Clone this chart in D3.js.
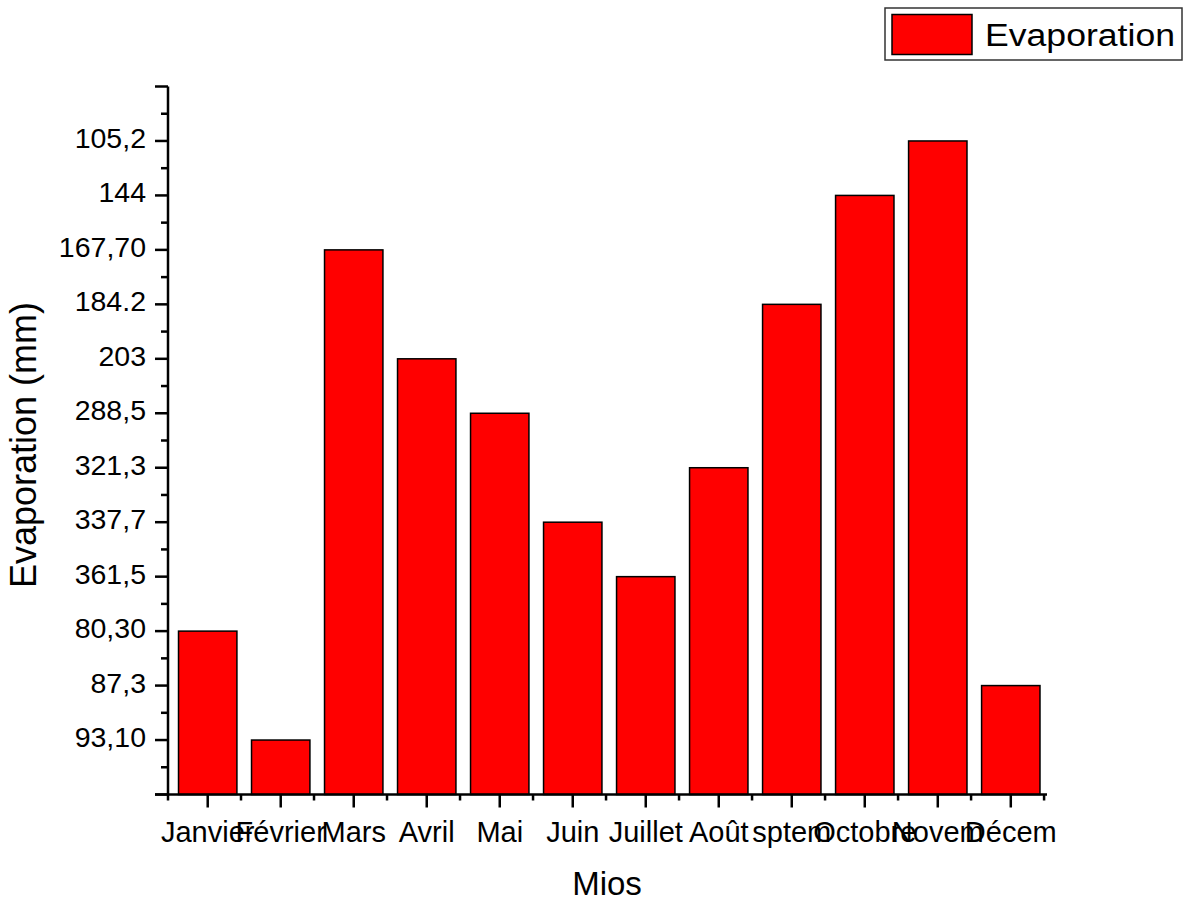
<!DOCTYPE html>
<html>
<head>
<meta charset="utf-8">
<script src="https://cdn.jsdelivr.net/npm/d3@7"></script>
<style>
  html, body { margin: 0; padding: 0; background: #fff; }
  svg { display: block; font-family: Arial, "Liberation Sans", sans-serif; }
</style>
</head>
<body>
<svg id="chart" width="1184" height="901"></svg>
<script>
// Month labels as they appear on the x axis
const months = ["Janvier","Février","Mars","Avril","Mai","Juin","Juillet","Août","sptem","Octobre","Novem","Décem"];
// Y axis tick labels (ordinal positions 1..12 from bottom)
const yTickLabels = ["93,10","87,3","80,30","361,5","337,7","321,3","288,5","203","184.2","167,70","144","105,2"];
// Evaporation value for each month (as shown on the y axis)
const evaporation = ["80,30","93,10","167,70","203","288,5","337,7","361,5","321,3","184.2","144","105,2","87,3"];
const seriesName = "Evaporation";
const xTitle = "Mios";
const yTitle = "Evaporation (mm)";

(function () {
const svg = d3.select("#chart");
const pl = 168, pr = 1047, pt = 86.5, pb = 794.5;

const x = d3.scaleBand().domain(months).range([pl, pr]).paddingInner(0.2).paddingOuter(0.12).align(0.6);
const y = d3.scaleLinear().domain([0, 13]).range([pb, pt]);
const pos = v => yTickLabels.indexOf(v) + 1;
const cx = d => x(d) + x.bandwidth() / 2;

// Bars
svg.append("g").selectAll("rect").data(months).join("rect")
  .attr("x", d => x(d))
  .attr("width", x.bandwidth())
  .attr("y", (d, i) => y(pos(evaporation[i])))
  .attr("height", (d, i) => y(0) - y(pos(evaporation[i])))
  .attr("fill", "#ff0000")
  .attr("stroke", "#000")
  .attr("stroke-width", 1.5);

// Y axis
const yMajor = d3.range(0, 14);
const yMinor = d3.range(0.5, 13, 1);
const ya = svg.append("g");
ya.append("line").attr("x1", pl).attr("x2", pl).attr("y1", y(13)).attr("y2", y(0))
  .attr("stroke", "#000").attr("stroke-width", 2.5);
ya.selectAll("line.maj").data(yMajor).join("line").attr("class", "maj")
  .attr("x1", pl - 13).attr("x2", pl).attr("y1", d => y(d)).attr("y2", d => y(d))
  .attr("stroke", "#000").attr("stroke-width", 2.5);
ya.selectAll("line.min").data(yMinor).join("line").attr("class", "min")
  .attr("x1", pl - 7).attr("x2", pl).attr("y1", d => y(d)).attr("y2", d => y(d))
  .attr("stroke", "#000").attr("stroke-width", 2.5);
ya.selectAll("text").data(yTickLabels).join("text")
  .attr("x", 146).attr("y", (d, i) => y(i + 1) + 7)
  .attr("text-anchor", "end").attr("font-size", 28.5).attr("fill", "#000")
  .text(d => d);

// X axis
const xa = svg.append("g");
xa.append("line").attr("x1", pl - 13).attr("x2", pr).attr("y1", pb).attr("y2", pb)
  .attr("stroke", "#000").attr("stroke-width", 2.5);
xa.selectAll("line.maj").data(months).join("line").attr("class", "maj")
  .attr("x1", cx).attr("x2", cx)
  .attr("y1", pb).attr("y2", pb + 13)
  .attr("stroke", "#000").attr("stroke-width", 2.5);
const minorX = d3.range(0, months.length + 1).map(i => pl + i * x.step());
xa.selectAll("line.min").data(minorX).join("line").attr("class", "min")
  .attr("x1", d => d).attr("x2", d => d).attr("y1", pb).attr("y2", pb + 6)
  .attr("stroke", "#000").attr("stroke-width", 2.5);
xa.selectAll("text").data(months).join("text")
  .attr("x", cx).attr("y", 842)
  .attr("text-anchor", "middle").attr("font-size", 29).attr("fill", "#000")
  .text(d => d);

// Axis titles
svg.append("text").attr("x", 607).attr("y", 895).attr("text-anchor", "middle")
  .attr("font-size", 33).attr("fill", "#000").text(xTitle);
svg.append("text").attr("transform", "translate(36,445) rotate(-90)")
  .attr("text-anchor", "middle").attr("font-size", 36).attr("fill", "#000").text(yTitle);

// Legend
const lg = svg.append("g");
lg.append("rect").attr("x", 885).attr("y", 8).attr("width", 297).attr("height", 52)
  .attr("fill", "#fff").attr("stroke", "#333").attr("stroke-width", 1.5);
lg.append("rect").attr("x", 892).attr("y", 14.5).attr("width", 80).attr("height", 40)
  .attr("fill", "#ff0000").attr("stroke", "#000").attr("stroke-width", 1.5);
lg.append("text").attr("x", 985).attr("y", 45.5).attr("font-size", 31).attr("fill", "#000")
  .attr("textLength", 190).attr("lengthAdjust", "spacingAndGlyphs").text(seriesName);
})();
</script>
</body>
</html>
